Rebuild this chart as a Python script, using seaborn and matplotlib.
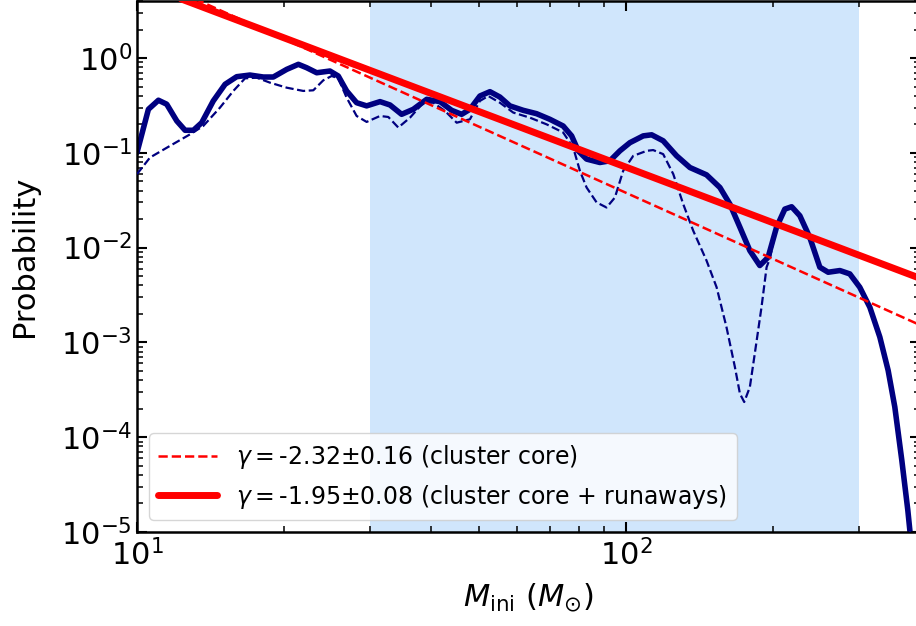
import numpy as np
import pandas as pd
import matplotlib
matplotlib.use("Agg")
import matplotlib.pyplot as plt
import seaborn as sns

# Mass distribution, cluster core + runaways (solid curve)
mass_all = [10.0, 10.55, 11.06, 11.50, 12.06, 12.54, 13.04, 13.56, 14.32, 15.14,
            15.99, 17.02, 18.13, 19.00, 20.24, 21.38, 22.23, 23.31, 24.81, 25.80,
            26.84, 28.13, 29.49, 31.41, 32.92, 34.77, 36.73, 39.13, 41.66, 44.01,
            46.13, 47.97, 50.28, 52.71, 55.24, 57.91, 61.66, 65.65, 69.90, 74.42,
            77.45, 79.89, 83.10, 88.47, 92.74, 97.21, 101.9, 108.5, 112.9, 119.2,
            127.0, 135.2, 146.2, 155.7, 163.2, 171.1, 179.3, 187.9, 195.4, 203.3,
            211.4, 218.3, 226.9, 237.8, 249.3, 259.3, 274.0, 287.1, 300.9, 315.5,
            330.7, 343.9, 354.9, 366.8, 377.3, 386.3]
prob_all = [0.101, 0.288, 0.359, 0.326, 0.217, 0.173, 0.173, 0.208, 0.353, 0.529,
            0.636, 0.662, 0.631, 0.631, 0.760, 0.859, 0.791, 0.700, 0.730, 0.647,
            0.450, 0.338, 0.313, 0.347, 0.320, 0.255, 0.288, 0.367, 0.347, 0.281,
            0.255, 0.288, 0.398, 0.442, 0.388, 0.313, 0.281, 0.259, 0.226, 0.192,
            0.151, 0.105, 0.0859, 0.0791, 0.0824, 0.105, 0.128, 0.151, 0.155, 0.134,
            0.093, 0.070, 0.0586, 0.0431, 0.0288, 0.0164, 0.0093, 0.00647, 0.00791, 0.0164,
            0.0255, 0.0270, 0.0217, 0.0128, 0.00621, 0.00550, 0.00573, 0.00528, 0.00382, 0.00235,
            0.00114, 0.000507, 0.000208, 5.7e-5, 1.7e-5, 5.1e-6]

# Mass distribution, cluster core only (dashed curve)
mass_core = [10.0, 10.63, 11.68, 12.84, 13.66, 14.78, 15.74, 16.63, 17.57, 18.71,
             20.24, 21.88, 22.94, 24.04, 25.01, 25.80, 26.84, 28.13, 29.49, 31.41,
             32.66, 34.23, 36.17, 38.51, 40.36, 42.65, 45.07, 47.97, 50.28, 52.29,
             55.24, 58.83, 63.64, 68.82, 74.42, 78.02, 80.52, 83.10, 87.11, 91.30,
             94.95, 98.74, 103.5, 110.3, 113.7, 119.2, 125.0, 131.0, 137.3, 146.2,
             153.3, 160.6, 167.1, 171.1, 174.6, 179.3, 183.5, 189.4, 194.0, 197.0,
             203.3, 211.4, 218.3, 226.9, 237.8, 249.3, 259.3, 274.0, 287.1, 300.9,
             315.5, 330.7, 343.9, 354.9, 366.8, 377.3, 386.3]
prob_core = [0.0597, 0.0893, 0.1185, 0.157, 0.192, 0.300, 0.450, 0.611, 0.621, 0.550,
             0.487, 0.450, 0.457, 0.582, 0.647, 0.611, 0.382, 0.245, 0.212, 0.245,
             0.239, 0.185, 0.235, 0.338, 0.338, 0.277, 0.208, 0.226, 0.353, 0.398,
             0.338, 0.266, 0.235, 0.200, 0.164, 0.1137, 0.0647, 0.0431, 0.030, 0.0265,
             0.0338, 0.0647, 0.0929, 0.105, 0.107, 0.0969, 0.0597, 0.0288, 0.0151, 0.0073,
             0.00382, 0.00145, 0.00055, 0.000288, 0.000235, 0.000338, 0.00076, 0.00235, 0.00621, 0.00766,
             0.0164, 0.0255, 0.0270, 0.0217, 0.0128, 0.00621, 0.00550, 0.00573, 0.00528, 0.00382,
             0.00235, 0.00114, 0.000507, 0.000208, 5.7e-5, 1.7e-5, 5.1e-6]

# Power-law fits  P(M) = A * M**gamma
gamma_core, gamma_core_err, amp_core = -2.32, 0.16, 1656.0
gamma_all, gamma_all_err, amp_all = -1.95, 0.08, 562.0
fit_range = [10.0, 400.0]

# Mass range used for the fit
fit_window = (30.0, 300.0)

sns.set_style("ticks")
plt.rcParams.update({
    "font.family": ["DejaVu Sans"],
    "text.color": "black", "axes.labelcolor": "black",
    "xtick.direction": "in", "ytick.direction": "in",
    "xtick.top": True, "ytick.right": True,
    "xtick.major.size": 7, "ytick.major.size": 7,
    "xtick.minor.size": 4, "ytick.minor.size": 4,
    "xtick.major.width": 1.5, "ytick.major.width": 1.5,
    "xtick.minor.width": 1.1, "ytick.minor.width": 1.1,
    "xtick.color": "black", "ytick.color": "black",
    "xtick.labelcolor": "black", "ytick.labelcolor": "black",
    "axes.edgecolor": "black", "axes.linewidth": 1.8,
    "mathtext.fontset": "dejavusans",
    "lines.solid_joinstyle": "round", "lines.dash_joinstyle": "round",
})

fig = plt.figure(figsize=(9.16, 6.26), dpi=100)
ax = fig.add_axes([0.1496, 0.1502, 0.855, 0.8482])

ax.axvspan(*fit_window, color="#d0e6fc", lw=0, zorder=0)

df_all = pd.DataFrame({"mass": mass_all, "prob": prob_all})
df_core = pd.DataFrame({"mass": mass_core, "prob": prob_core})
sns.lineplot(data=df_all, x="mass", y="prob", ax=ax, color="navy", lw=4,
             estimator=None, sort=False, zorder=2)
sns.lineplot(data=df_core, x="mass", y="prob", ax=ax, color="navy", lw=1.6,
             ls="--", estimator=None, sort=False, zorder=3)

m_fit = np.array(fit_range)
fit_df = pd.DataFrame({
    "mass": m_fit,
    "core": amp_core * m_fit ** gamma_core,
    "all": amp_all * m_fit ** gamma_all,
})
sns.lineplot(data=fit_df, x="mass", y="core", ax=ax, color="red", lw=1.8, ls="--",
             estimator=None, zorder=4,
             label=r"$\gamma=$" + f"{gamma_core:.2f}" + r"$\pm$" + f"{gamma_core_err:.2f} (cluster core)")
sns.lineplot(data=fit_df, x="mass", y="all", ax=ax, color="red", lw=5,
             estimator=None, zorder=5,
             label=r"$\gamma=$" + f"{gamma_all:.2f}" + r"$\pm$" + f"{gamma_all_err:.2f} (cluster core + runaways)")

ax.set_xscale("log")
ax.set_yscale("log")
ax.set_xlim(10, 400)
ax.set_ylim(1e-5, 4)
ax.tick_params(axis="both", which="major", labelsize=22)
ax.tick_params(axis="x", which="major", pad=5)
ax.set_xlabel(r"$M_{\rm ini}$ ($M_{\odot}$)", fontsize=22, labelpad=7)
ax.set_ylabel("Probability", fontsize=22, labelpad=12)
ax.yaxis.set_label_coords(-0.125, 0.52)

leg = ax.legend(loc="lower left", fontsize=17, handlelength=2.5, framealpha=0.8)

fig.savefig("out.png", dpi=100)
